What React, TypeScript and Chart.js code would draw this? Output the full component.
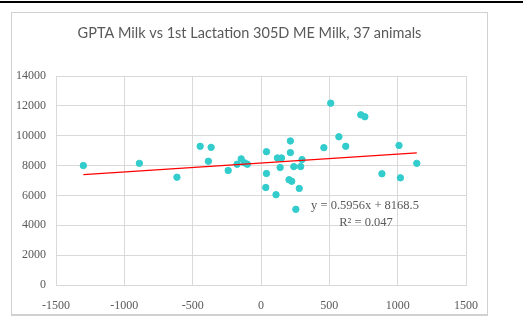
import React, { useEffect, useRef } from "react";
import { Chart, registerables } from "chart.js";

Chart.register(...registerables);

const TITLE = "GPTA Milk vs 1st Lactation 305D ME Milk, 37 animals";

// GPTA Milk (x) values
const gptaMilk: number[] = [
  -1300, -890, -615, -445, -365, -385, -240, -175, -145, -120, -100,
  40, 40, 35, 110, 120, 150, 140, 215, 215, 240, 205, 225, 255, 280, 290, 300,
  460, 510, 570, 620, 730, 760, 885, 1010, 1020, 1140,
];

// 1st Lactation 305D ME Milk (y) values
const meMilk: number[] = [
  8000, 8150, 7220, 9290, 9220, 8290, 7670, 8090, 8450, 8180, 8090,
  8930, 7470, 6530, 6050, 8510, 8510, 7870, 9650, 8870, 7930, 7050, 6950, 5070, 6470, 7930, 8400,
  9200, 12180, 9930, 9290, 11400, 11270, 7450, 9350, 7180, 8150,
];

// Linear trendline as printed on the chart
const TREND_SLOPE = 0.5956;
const TREND_INTERCEPT = 8168.5;
const R_SQUARED = "0.047";

const X_TICKS = [-1500, -1000, -500, 0, 500, 1000, 1500];
const Y_TICKS = [0, 2000, 4000, 6000, 8000, 10000, 12000, 14000];

export default function App() {
  const canvasRef = useRef<HTMLCanvasElement | null>(null);

  useEffect(() => {
    document.body.style.margin = "0";
    const canvas = canvasRef.current;
    if (!canvas) return;

    const points = gptaMilk.map((x, i) => ({ x, y: meMilk[i] }));
    const xMin = Math.min(...gptaMilk);
    const xMax = Math.max(...gptaMilk);
    const trend = [
      { x: xMin, y: TREND_SLOPE * xMin + TREND_INTERCEPT },
      { x: xMax, y: TREND_SLOPE * xMax + TREND_INTERCEPT },
    ];

    const textPlugin = {
      id: "chartTexts",
      afterDraw(chart: any) {
        const ctx = chart.ctx;
        ctx.save();
        ctx.fillStyle = "#595959";
        ctx.font = "14.5px Lato, 'Open Sans', sans-serif";
        ctx.textAlign = "center";
        ctx.textBaseline = "middle";
        ctx.fillText(TITLE, chart.width / 2, 20.5);
        ctx.restore();
      },
      afterDatasetsDraw(chart: any) {
        const ctx = chart.ctx;
        const area = chart.chartArea;
        ctx.save();
        ctx.fillStyle = "#595959";
        ctx.font = "12.5px 'Liberation Serif', 'Times New Roman', serif";
        ctx.textAlign = "center";
        ctx.textBaseline = "middle";
        const cx = area.left + 309;
        ctx.fillText(`y = ${TREND_SLOPE}x + ${TREND_INTERCEPT}`, cx, area.top + 130);
        ctx.fillText(`R\u00B2 = ${R_SQUARED}`, cx + 1, area.top + 147);
        ctx.restore();
      },
    };

    const tickFont = { family: "'Liberation Serif', 'Times New Roman', serif", size: 12 };

    const chart = new Chart(canvas, {
      type: "scatter",
      data: {
        datasets: [
          {
            label: "Milk",
            data: points,
            backgroundColor: "#33CCCC",
            borderColor: "#33CCCC",
            pointRadius: 3.2,
            pointHoverRadius: 3.2,
            order: 2,
          },
          {
            label: "Trend",
            type: "line",
            data: trend,
            borderColor: "#FF0000",
            borderWidth: 1.2,
            pointRadius: 0,
            fill: false,
            order: 1,
          } as any,
        ],
      },
      options: {
        animation: false,
        responsive: false,
        maintainAspectRatio: false,
        events: [],
        layout: { padding: { top: 63, left: 0, right: 21, bottom: 0 } },
        plugins: {
          legend: { display: false },
          tooltip: { enabled: false },
          title: { display: false },
        },
        scales: {
          x: {
            type: "linear",
            min: -1500,
            max: 1500,
            afterBuildTicks: (scale: any) => {
              scale.ticks = X_TICKS.map((v) => ({ value: v }));
            },
            afterFit: (scale: any) => {
              scale.height = 29;
              scale.paddingLeft = 0;
              scale.paddingRight = 0;
            },
            grid: { color: "#D9D9D9", drawTicks: false, lineWidth: 1 },
            border: { color: "#D9D9D9" },
            ticks: {
              color: "#595959",
              padding: 14,
              maxRotation: 0,
              font: tickFont,
              callback: (v: any) => String(v),
            },
          },
          y: {
            type: "linear",
            min: 0,
            max: 14000,
            afterBuildTicks: (scale: any) => {
              scale.ticks = Y_TICKS.map((v) => ({ value: v }));
            },
            afterFit: (scale: any) => {
              scale.width = 44;
            },
            grid: { color: "#D9D9D9", drawTicks: false, lineWidth: 1 },
            border: { color: "#D9D9D9" },
            ticks: {
              color: "#595959",
              padding: 10,
              font: tickFont,
              callback: (v: any) => String(v),
            },
          },
        },
      },
      plugins: [textPlugin],
    });

    return () => chart.destroy();
  }, []);

  return (
    <div style={{ position: "relative", width: 523, height: 320, background: "#fff", overflow: "hidden" }}>
      <div style={{ position: "absolute", left: 0, top: 1, width: 523, height: 2, background: "#000" }} />
      <div
        style={{
          position: "absolute",
          left: 11,
          top: 12,
          width: 475,
          height: 301,
          border: "1px solid #D0D0D0",
          borderBottomWidth: 2,
          background: "#fff",
        }}
      >
        <canvas ref={canvasRef} width={475} height={301} style={{ display: "block", width: 475, height: 301 }} />
      </div>
    </div>
  );
}
